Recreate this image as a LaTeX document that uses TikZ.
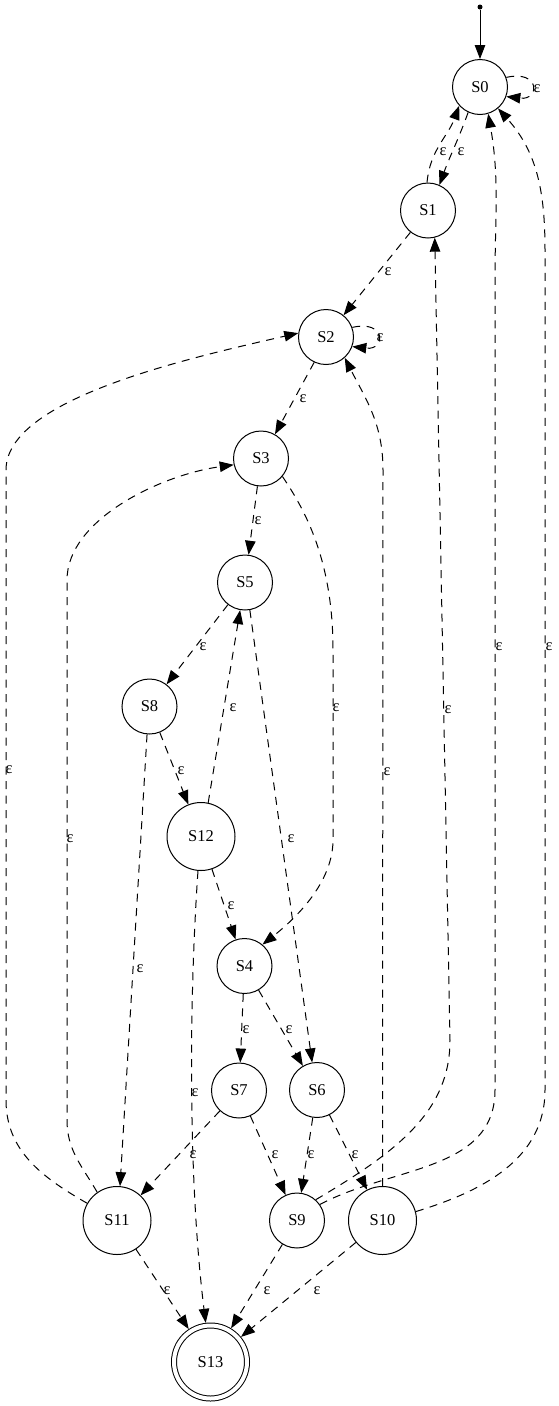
\documentclass[tikz,border=0pt]{standalone}
\usepackage{fontspec}
\setmainfont{Liberation Serif}
\usetikzlibrary{arrows.meta}
\newcommand\gvfont{\fontsize{16.5}{18}\selectfont}
\begin{document}
\begin{tikzpicture}[x=1pt,y=-1pt,
  st/.style={circle,draw,line width=1pt,minimum size=55pt,inner sep=0pt,font=\gvfont},
  wide/.style={st,minimum size=68pt},
  fin/.style={st,minimum size=73pt,double,double distance=4pt,outer sep=3pt},
  tip/.style={-{Triangle[length=14pt,width=10.5pt]}},
  ed/.style={line width=1pt,dash pattern=on 8pt off 6.5pt,tip},
  sol/.style={line width=1pt,tip},
  lab/.style={font=\gvfont,inner sep=0pt},
  dotst/.style={circle,fill,minimum size=5pt,inner sep=0pt}]
\useasboundingbox (0,0) rectangle (559,1406);

% states
\node[dotst] (start) at (480,7) {};
\node[st] (S0) at (480,87) {S0};
\node[st] (S1) at (428,210.5) {S1};
\node[st] (S2) at (326,337) {S2};
\node[st] (S3) at (261,458.5) {S3};
\node[st] (S5) at (245,582.5) {S5};
\node[st] (S8) at (149.5,706.5) {S8};
\node[wide] (S12) at (201,836.5) {S12};
\node[st] (S4) at (244.5,966) {S4};
\node[st] (S7) at (239,1090.5) {S7};
\node[st] (S6) at (317,1090) {S6};
\node[wide] (S11) at (117,1220.5) {S11};
\node[st] (S9) at (297,1220.5) {S9};
\node[wide] (S10) at (382.5,1220.5) {S10};
\node[fin] (S13) at (210.5,1362) {S13};

% waypoints
\coordinate (w91a) at (450,1040);
\coordinate (w90a) at (495,1090);
\coordinate (w90b) at (495,280);
\coordinate (w100a) at (545,1090);
\coordinate (w100b) at (545,250);
\coordinate (w102) at (383,470);
\coordinate (w112a) at (6,1100);
\coordinate (w112b) at (6,470);
\coordinate (w113a) at (67,1120);
\coordinate (w113b) at (67,580);
\coordinate (w34a) at (333,650);
\coordinate (w34b) at (333,840);

% edges
\draw[sol] (start) -- (S0);
\draw[ed] (S0.20) .. controls +(34,-8) and +(34,4) .. (S0.-20);
\draw[ed] (S0.245) to[out=250,in=70] (S1.66);
\draw[ed] (S1.92) to[out=85,in=250] (S0.222);
\draw[ed] (S1) -- (S2);
\draw[ed] (S2.20) .. controls +(34,-8) and +(34,4) .. (S2.-20);
\draw[ed] (S2.245) -- (S3.60);
\draw[ed] (S3) -- (S5);
\draw[ed] (S3.-40) .. controls (305,510) and (333,560) .. (w34a) -- (w34b)
   .. controls (333,880) and (300,915) .. (S4.50);
\draw[ed] (S5) -- (S8);
\draw[ed] (S5.-80) -- (S6.100);
\draw[ed] (S12.78) -- (S5.-100);
\draw[ed] (S8) -- (S12);
\draw[ed] (S8.-95) -- (S11.85);
\draw[ed] (S12) -- (S4);
\draw[ed] (S12.-95) .. controls (189,1000) and (188,1180) .. (S13.97);
\draw[ed] (S4) -- (S7);
\draw[ed] (S4) -- (S6);
\draw[ed] (S7) -- (S11);
\draw[ed] (S7) -- (S9);
\draw[ed] (S6) -- (S9);
\draw[ed] (S6) -- (S10);
\draw[ed] (S9.48) .. controls (400,1150) and (450,1110) .. (w91a) -- (S1.-76);
\draw[ed] (S9.35) to[out=28,in=-90] (w90a) -- (w90b) to[out=90,in=-80] (S0.-73);
\draw[ed] (S10.15) to[out=17,in=-90] (w100a) -- (w100b) to[out=90,in=-48] (S0.-50);
\draw[ed] (S10.90) -- (w102) to[out=90,in=-63] (S2.-48);
\draw[ed] (S11.150) to[out=150,in=-90] (w112a) -- (w112b)
   .. controls (6,400) and (180,360) .. (S2.172);
\draw[ed] (S11.125) to[out=120,in=-90] (w113a) -- (w113b)
   .. controls (67,520) and (160,475) .. (S3.-167);
\draw[ed] (S11) -- (S13);
\draw[ed] (S9) -- (S13);
\draw[ed] (S10) -- (S13);

% labels
\node[lab] (e00) at (537,89) {ε};
\node[lab] (e01) at (461,152) {ε};
\node[lab] (e10) at (443,152) {ε};
\node[lab] (e12) at (388,272) {ε};
\node[lab] (e22) at (380,338) {ε};
\node[lab] (e23) at (303,399) {ε};
\node[lab] (e35) at (258,521) {ε};
\node[lab] (e34) at (336,708) {ε};
\node[lab] (e58) at (203,647) {ε};
\node[lab] (e125) at (233,708) {ε};
\node[lab] (e56) at (291,839) {ε};
\node[lab] (e812) at (181,771) {ε};
\node[lab] (e811) at (140,969) {ε};
\node[lab] (e124) at (231,906) {ε};
\node[lab] (e1213) at (195,1093) {ε};
\node[lab] (e47) at (246,1030) {ε};
\node[lab] (e46) at (289,1030) {ε};
\node[lab] (e711) at (193,1155) {ε};
\node[lab] (e79) at (275,1155) {ε};
\node[lab] (e69) at (311,1155) {ε};
\node[lab] (e610) at (355,1155) {ε};
\node[lab] (e91) at (448,710) {ε};
\node[lab] (e90) at (499,647) {ε};
\node[lab] (e100) at (549,647) {ε};
\node[lab] (e102) at (387,772) {ε};
\node[lab] (e112) at (9,770) {ε};
\node[lab] (e113) at (70,839) {ε};
\node[lab] (e1113) at (167,1291) {ε};
\node[lab] (e913) at (267,1291) {ε};
\node[lab] (e1013) at (317,1291) {ε};
\end{tikzpicture}
\end{document}
